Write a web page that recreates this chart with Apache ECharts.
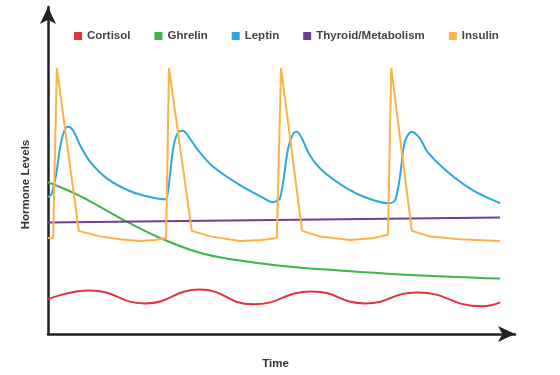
<!DOCTYPE html>
<html>
<head>
<meta charset="utf-8">
<script src="https://cdn.jsdelivr.net/npm/echarts@6/dist/echarts.min.js"></script>
<style>
  html, body { margin: 0; padding: 0; background: #fff; }
  #chart { width: 560px; height: 375px; }
</style>
</head>
<body>
<div id="chart"></div>
<script>
// series names
var names = ['Cortisol', 'Ghrelin', 'Leptin', 'Thyroid/Metabolism', 'Insulin'];
var colors = ['#e2323c', '#3cb54a', '#2aa9dc', '#6d3f96', '#fbb246'];

// [time, level]
var cortisol = [[0,10.8],[9.0,13.5],[20.8,9.5],[32.5,13.8],[43.9,9.2],[56.5,13.2],[67.9,9.5],[79.0,12.9],[92.9,8.6],[96.8,9.8]];
var ghrelin = [[0,47.1],[6.9,42.8],[15.4,36.0],[24.0,29.8],[32.5,25.2],[39.6,23.1],[49.7,21.2],[62.5,19.7],[75.4,18.5],[96.8,17.2]];
var leptin = [[0,42.5],[0.8,43.5],[1.8,50.0],[2.6,58.0],[3.6,63.5],[4.3,64.3],[5.4,63.1],[6.9,58.5],[9.0,53.5],[12.6,48.3],[17.6,44.3],[21.8,42.5],[25.1,41.8],
  [25.7,44.3],[26.8,57.5],[27.8,62.5],[28.9,63.1],[30.0,61.5],[31.9,57.5],[35.3,52.0],[41.1,46.2],[45.4,42.8],[48.2,40.9],
  [49.7,42.2],[51.4,57.5],[52.5,62.2],[53.3,62.8],[54.4,60.6],[56.1,55.4],[58.9,50.5],[64.0,45.2],[68.3,42.2],[72.8,40.6],
  [74.3,41.5],[75.4,49.2],[76.4,59.7],[77.9,62.8],[79.7,60.6],[81.2,56.6],[85.4,50.5],[91.0,44.6],[96.8,40.6]];
var thyroid = [[0,34.6],[96.8,36.2]];
var insulin = [[0,29.8],[1.1,29.8],[1.9,82.5],[6.6,32.0],[11.1,30.3],[15.4,29.4],[19.7,28.9],[22.9,29.2],[25.3,29.8],
  [25.9,82.5],[30.8,32.0],[34.7,30.3],[41.1,28.9],[45.8,29.2],[49.0,29.8],
  [49.9,82.5],[54.4,32.0],[58.2,30.3],[64.7,29.2],[69.4,29.7],[72.8,30.8],
  [73.5,82.5],[77.9,32.0],[81.8,30.3],[88.2,29.4],[96.8,28.9]];
var seriesData = [cortisol, ghrelin, leptin, thyroid, insulin];
var smoothing = [0.5, 0.4, 0.3, false, false];

var myChart = echarts.init(document.getElementById('chart'));

var axisLine = {
    show: true,
    symbol: ['none', 'arrow'],
    symbolSize: [12, 17],
    lineStyle: { color: '#222', width: 2.5 }
};
var nameFont = { color: '#333', fontSize: 11.5, fontWeight: 'bold', fontFamily: 'Liberation Sans' };

var series = [];
for (var i = 0; i < names.length; i++) {
    series.push({
        name: names[i],
        type: 'line',
        data: seriesData[i],
        smooth: smoothing[i],
        showSymbol: false,
        color: colors[i],
        lineStyle: { width: 2, color: colors[i] },
        z: 3
    });
}

var option = {
    animation: false,
    grid: { left: 48, right: 45, top: 7, bottom: 38 },
    legend: {
        data: names,
        left: 69,
        top: 25,
        icon: 'rect',
        itemWidth: 8,
        itemHeight: 8,
        itemGap: 24,
        textStyle: { color: '#444', fontSize: 11.5, fontWeight: 'bold', fontFamily: 'Liberation Sans' }
    },
    xAxis: {
        type: 'value',
        min: 0,
        max: 100,
        name: 'Time',
        nameLocation: 'middle',
        nameGap: 24,
        nameTextStyle: Object.assign({ padding: [0, 12, 0, 0] }, nameFont),
        axisLine: axisLine,
        axisTick: { show: false },
        axisLabel: { show: false },
        splitLine: { show: false }
    },
    yAxis: {
        type: 'value',
        min: 0,
        max: 101.5,
        name: 'Hormone Levels',
        nameLocation: 'middle',
        nameGap: 16,
        nameTextStyle: Object.assign({ padding: [0, 28, 0, 0] }, nameFont),
        axisLine: axisLine,
        axisTick: { show: false },
        axisLabel: { show: false },
        splitLine: { show: false }
    },
    series: series
};

myChart.setOption(option);
</script>
</body>
</html>
